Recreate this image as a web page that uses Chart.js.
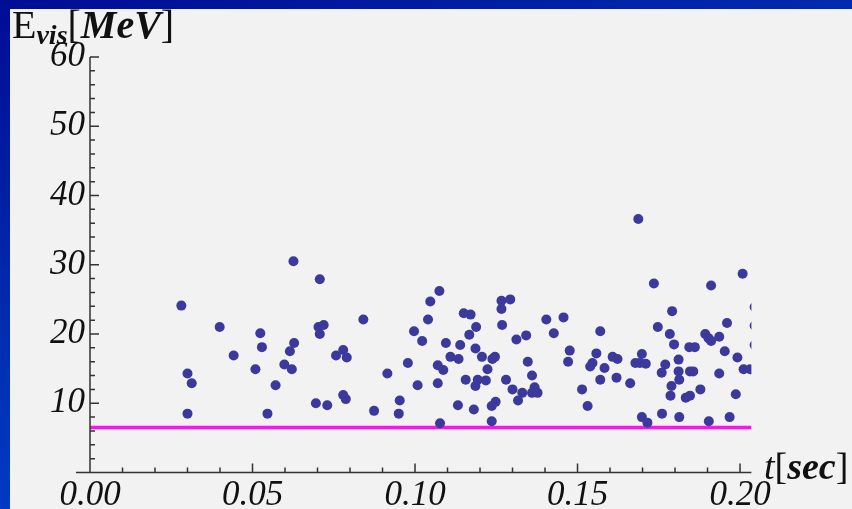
<!DOCTYPE html>
<html>
<head>
<meta charset="utf-8">
<script src="https://cdn.jsdelivr.net/npm/chart.js@4.4.1/dist/chart.umd.min.js"></script>
<style>
  html, body { margin: 0; padding: 0; }
  body {
    width: 852px; height: 509px; overflow: hidden; position: relative;
    background: linear-gradient(160deg, #000c94 0%, #0030b4 45%, #0050e0 100%);
  }
  #panel { position: absolute; left: 10px; top: 9px; right: 0; bottom: 0; background: #f2f2f2; }
  #wrap { position: absolute; left: 0; top: 0; width: 852px; height: 509px; }
</style>
</head>
<body>
<div id="panel"></div>
<div id="wrap"><canvas id="evisChart"></canvas></div>
<script>
// waktu kejadian [sec] dan energi tampak [MeV]
const tValues = [
  0.0281, 0.0300, 0.0313, 0.0300, 0.0399, 0.0442, 0.0509, 0.0524, 0.0529, 0.0546,
  0.0571, 0.0598, 0.0615, 0.0628, 0.0621, 0.0626, 0.0695, 0.0707, 0.0703, 0.0719,
  0.0707, 0.0730, 0.0757, 0.0779, 0.0790, 0.0779, 0.0787, 0.0841, 0.0874, 0.0915,
  0.0950, 0.0953, 0.0978, 0.0997, 0.1008, 0.1022, 0.1040, 0.1047, 0.1075, 0.1070,
  0.1087, 0.1070, 0.1077, 0.1095, 0.1109, 0.1134, 0.1139, 0.1132, 0.1150, 0.1171,
  0.1167, 0.1188, 0.1156, 0.1186, 0.1193, 0.1186, 0.1181, 0.1206, 0.1218, 0.1223,
  0.1238, 0.1246, 0.1236, 0.1248, 0.1236, 0.1266, 0.1266, 0.1293, 0.1268, 0.1280,
  0.1300, 0.1312, 0.1342, 0.1317, 0.1330, 0.1347, 0.1360, 0.1368, 0.1360, 0.1377,
  0.1404, 0.1427, 0.1457, 0.1476, 0.1471, 0.1514, 0.1531, 0.1539, 0.1546, 0.1558,
  0.1570, 0.1570, 0.1583, 0.1608, 0.1623, 0.1620, 0.1662, 0.1678, 0.1698, 0.1692,
  0.1710, 0.1687, 0.1698, 0.1715, 0.1735, 0.1747, 0.1759, 0.1770, 0.1760, 0.1791,
  0.1784, 0.1797, 0.1789, 0.1786, 0.1811, 0.1811, 0.1813, 0.1813, 0.1833, 0.1846,
  0.1844, 0.1861, 0.1846, 0.1856, 0.1878, 0.1893, 0.1903, 0.1911, 0.1936, 0.1911,
  0.1904, 0.1936, 0.1953, 0.1960, 0.1968, 0.1987, 0.1992, 0.2008, 0.2011, 0.2031,
  0.2045, 0.2045, 0.2045
];
const eValues = [
  24.1, 14.3, 12.9, 8.5, 21.0, 16.9, 14.9, 20.1, 18.1, 8.5,
  12.6, 15.6, 17.5, 18.7, 14.9, 30.5, 10.0, 27.9, 21.0, 21.3,
  20.0, 9.7, 16.9, 17.7, 16.6, 11.2, 10.6, 22.1, 8.9, 14.3,
  8.5, 10.4, 15.8, 20.4, 12.6, 19.0, 22.1, 24.7, 26.2, 15.5,
  14.8, 12.9, 7.1, 18.7, 16.7, 16.4, 18.4, 9.7, 23.0, 22.8,
  19.9, 21.0, 13.4, 17.9, 13.4, 12.5, 9.1, 16.7, 13.3, 14.9,
  16.4, 16.7, 9.6, 10.2, 7.4, 24.8, 23.6, 25.0, 21.3, 13.4,
  12.0, 19.2, 19.8, 10.4, 11.5, 16.0, 14.0, 12.3, 11.5, 11.5,
  22.1, 20.1, 22.4, 17.6, 16.0, 12.0, 9.6, 15.3, 15.8, 17.2,
  20.4, 13.4, 15.1, 16.7, 16.4, 13.7, 12.9, 15.8, 17.1, 15.8,
  15.7, 36.6, 8.0, 7.2, 27.3, 21.0, 14.4, 15.6, 8.5, 23.3,
  20.0, 18.5, 12.5, 11.1, 16.3, 14.6, 13.4, 8.0, 10.8, 11.1,
  18.1, 18.1, 14.6, 14.6, 12.0, 20.0, 19.4, 19.0, 19.6, 27.0,
  7.4, 14.3, 17.5, 21.6, 8.0, 11.3, 16.6, 28.7, 14.9, 14.9,
  23.9, 21.2, 18.4
];
const thresholdT = [0, 0.2035];
const thresholdE = [6.5, 6.5];
const xTickLabels = ['0.00', '0.05', '0.10', '0.15', '0.20'];
const yTickLabels = ['10', '20', '30', '40', '50', '60'];

const serif = '"Liberation Serif", "DejaVu Serif", serif';

// sumbu, tick ke dalam, dan judul sumbu ala Mathematica
const axesPlugin = {
  id: 'axesPlugin',
  afterDraw(chart) {
    const ctx = chart.ctx;
    const xs = chart.scales.x;
    const ys = chart.scales.y;
    const x0 = xs.getPixelForValue(0);
    const y0 = ys.getPixelForValue(0);
    ctx.save();
    ctx.strokeStyle = '#333';
    ctx.lineWidth = 1.5;
    ctx.beginPath();
    ctx.moveTo(x0, ys.getPixelForValue(60));
    ctx.lineTo(x0, y0);
    ctx.moveTo(x0 - 14, y0);
    ctx.lineTo(chart.chartArea.right, y0);
    for (let i = 0; i <= 30; i++) {
      const py = ys.getPixelForValue(i * 2);
      ctx.moveTo(x0, py);
      ctx.lineTo(x0 + (i % 5 === 0 ? 9 : 5), py);
    }
    for (let i = 1; i <= 20; i++) {
      const px = xs.getPixelForValue(i / 100);
      ctx.moveTo(px, y0);
      ctx.lineTo(px, y0 - (i % 5 === 0 ? 9 : 5));
    }
    ctx.stroke();

    ctx.fillStyle = '#111';
    ctx.textBaseline = 'alphabetic';
    ctx.textAlign = 'left';
    const parts = (list, x, y) => {
      list.forEach(([txt, font, dy]) => {
        ctx.font = font;
        ctx.fillText(txt, x, y + dy);
        x += ctx.measureText(txt).width;
      });
    };
    parts([
      ['E', '40px ' + serif, 0],
      ['vis', 'italic bold 28px ' + serif, 6],
      ['[', '40px ' + serif, 0],
      ['MeV', 'italic bold 40px ' + serif, 0],
      [']', '40px ' + serif, 0]
    ], 12, 38);
    parts([
      ['t', 'italic 38px ' + serif, 0],
      ['[', '38px ' + serif, 0],
      ['sec', 'italic bold 38px ' + serif, 0],
      [']', '38px ' + serif, 0]
    ], 764, 479);
    ctx.restore();
  }
};

const ctx = document.getElementById('evisChart').getContext('2d');
new Chart(ctx, {
  type: 'scatter',
  data: {
    datasets: [
      {
        label: 'threshold',
        type: 'line',
        data: thresholdT.map((t, i) => ({ x: t, y: thresholdE[i] })),
        borderColor: '#ff10f0',
        borderWidth: 3.5,
        pointRadius: 0,
        fill: false,
        order: 2
      },
      {
        label: 'events',
        data: tValues.map((t, i) => ({ x: t, y: eValues[i] })),
        backgroundColor: '#3b3a9c',
        borderColor: '#3b3a9c',
        borderWidth: 0,
        pointRadius: 5,
        order: 1
      }
    ]
  },
  options: {
    responsive: true,
    maintainAspectRatio: false,
    animation: false,
    events: [],
    layout: { padding: { left: 10, top: 57, right: 100.6, bottom: 0.5 } },
    plugins: {
      legend: { display: false },
      tooltip: { enabled: false }
    },
    scales: {
      x: {
        type: 'linear',
        min: 0,
        max: 0.2035,
        grid: { display: false, drawTicks: false },
        border: { display: false },
        ticks: {
          stepSize: 0.05,
          includeBounds: false,
          padding: 2,
          color: '#111',
          font: { family: serif, style: 'italic', size: 35 },
          maxRotation: 0,
          callback: (v) => xTickLabels[Math.round(v / 0.05)] || ''
        },
        afterFit(scale) { scale.height = 36; }
      },
      y: {
        min: 0,
        max: 60,
        grid: { display: false, drawTicks: false },
        border: { display: false },
        ticks: {
          stepSize: 10,
          padding: 5,
          color: '#111',
          font: { family: serif, style: 'italic', size: 35 },
          callback: (v) => v === 0 ? '' : (yTickLabels[v / 10 - 1] || '')
        },
        afterFit(scale) { scale.width = 80; }
      }
    }
  },
  plugins: [axesPlugin]
});
</script>
</body>
</html>
